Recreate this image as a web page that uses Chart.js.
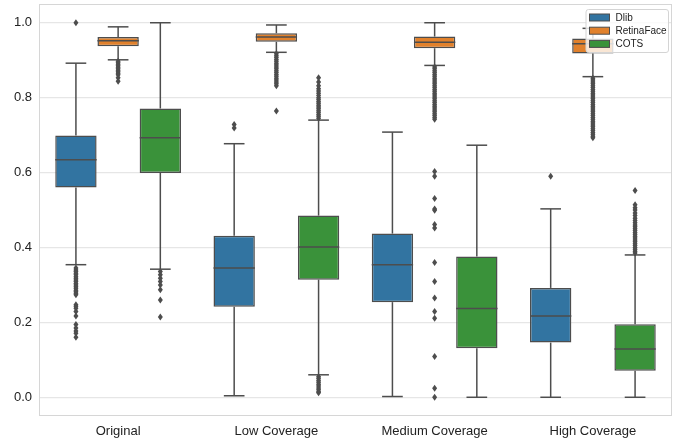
<!DOCTYPE html>
<html>
<head>
<meta charset="utf-8">
<script src="https://cdn.jsdelivr.net/npm/chart.js@4/dist/chart.umd.min.js"></script>
<style>
  html, body { margin: 0; padding: 0; background: #ffffff; }
  #wrap { width: 680px; height: 439px; position: relative; }
</style>
</head>
<body>
<div id="wrap"><canvas id="c"></canvas></div>
<script>
// Detection confidence by face-coverage condition, one box per detector.
const categories = ['Original', 'Low Coverage', 'Medium Coverage', 'High Coverage'];
const seriesNames = ['Dlib', 'RetinaFace', 'COTS'];
const yTicks = [0.0, 0.2, 0.4, 0.6, 0.8, 1.0];

// Dlib
const dlibQ1 = [0.560, 0.242, 0.254, 0.146];
const dlibMedian = [0.634, 0.345, 0.354, 0.217];
const dlibQ3 = [0.699, 0.431, 0.437, 0.292];
const dlibLow = [0.354, 0.004, 0.002, 0.000];
const dlibHigh = [0.892, 0.677, 0.708, 0.503];
const dlibOutliers = [
  [1.000, 0.345, 0.340, 0.336, 0.331, 0.327, 0.322, 0.318, 0.313, 0.309, 0.304, 0.300,
   0.295, 0.291, 0.286, 0.282, 0.278, 0.274, 0.247, 0.243, 0.238, 0.229, 0.217,
   0.194, 0.185, 0.177, 0.171, 0.160],
  [0.728, 0.719],
  [],
  [0.590]
];

// RetinaFace
const retinaQ1 = [0.937, 0.949, 0.932, 0.918];
const retinaMedian = [0.952, 0.962, 0.948, 0.944];
const retinaQ3 = [0.962, 0.972, 0.963, 0.958];
const retinaLow = [0.901, 0.921, 0.886, 0.856];
const retinaHigh = [0.989, 0.994, 1.000, 0.985];
const retinaOutliers = [
  [0.897, 0.893, 0.889, 0.885, 0.881, 0.877, 0.873, 0.869, 0.865, 0.861, 0.853, 0.844],
  [0.917, 0.912, 0.907, 0.902, 0.897, 0.892, 0.887, 0.882, 0.877, 0.872, 0.867, 0.862,
   0.857, 0.852, 0.847, 0.842, 0.837, 0.832, 0.764],
  [0.882, 0.877, 0.872, 0.867, 0.862, 0.857, 0.852, 0.847, 0.842, 0.837, 0.832, 0.827,
   0.822, 0.817, 0.812, 0.807, 0.802, 0.797, 0.792, 0.787, 0.782, 0.777, 0.772, 0.767,
   0.762, 0.757, 0.752, 0.747, 0.742, 0.603, 0.590, 0.531, 0.503, 0.499, 0.461, 0.452,
   0.360, 0.309, 0.265, 0.229, 0.211, 0.109, 0.024, 0.000],
  [0.852, 0.847, 0.842, 0.837, 0.832, 0.827, 0.822, 0.817, 0.812, 0.807, 0.802, 0.797,
   0.792, 0.787, 0.782, 0.777, 0.772, 0.767, 0.762, 0.757, 0.752, 0.747, 0.742, 0.737,
   0.732, 0.727, 0.722, 0.717, 0.712, 0.707, 0.702, 0.697, 0.693]
];

// COTS
const cotsQ1 = [0.599, 0.314, 0.131, 0.071];
const cotsMedian = [0.693, 0.401, 0.237, 0.129];
const cotsQ3 = [0.771, 0.485, 0.376, 0.195];
const cotsLow = [0.342, 0.060, 0.000, 0.000];
const cotsHigh = [1.000, 0.740, 0.673, 0.380];
const cotsOutliers = [
  [0.336, 0.327, 0.318, 0.309, 0.300, 0.287, 0.260, 0.214],
  [0.745, 0.750, 0.755, 0.760, 0.765, 0.770, 0.775, 0.780, 0.785, 0.790, 0.795, 0.800,
   0.806, 0.812, 0.818, 0.824, 0.832, 0.842, 0.853,
   0.055, 0.050, 0.045, 0.040, 0.035, 0.030, 0.025, 0.020, 0.015, 0.012],
  [],
  [0.385, 0.390, 0.395, 0.400, 0.405, 0.410, 0.415, 0.420, 0.425, 0.430, 0.435, 0.440,
   0.445, 0.450, 0.455, 0.460, 0.466, 0.472, 0.478, 0.485, 0.492, 0.500, 0.506, 0.514, 0.552]
];

const fillColors = ['#3274a1', '#e1812c', '#3a923a'];
const lineColor = '#4d4d4d';
const textColor = '#222222';
const fontFamily = '"Liberation Sans", Arial, Helvetica, sans-serif';

const stats = [
  { q1: dlibQ1, med: dlibMedian, q3: dlibQ3, low: dlibLow, high: dlibHigh, out: dlibOutliers },
  { q1: retinaQ1, med: retinaMedian, q3: retinaQ3, low: retinaLow, high: retinaHigh, out: retinaOutliers },
  { q1: cotsQ1, med: cotsMedian, q3: cotsQ3, low: cotsLow, high: cotsHigh, out: cotsOutliers }
];

// Whiskers, caps, medians, outlier diamonds, plot frame and the inset legend.
const boxExtras = {
  id: 'boxExtras',
  beforeDatasetsDraw(chart) {
    const { ctx, chartArea: a } = chart;
    ctx.save();
    ctx.strokeStyle = '#d6d6d6';
    ctx.lineWidth = 1;
    ctx.strokeRect(a.left + 0.5, a.top + 0.5, a.width - 1, a.height - 1);
    ctx.restore();
  },
  afterDatasetsDraw(chart) {
    const { ctx } = chart;
    const y = chart.scales.y;
    const seg = (x1, y1, x2, y2) => {
      ctx.beginPath(); ctx.moveTo(x1, y1); ctx.lineTo(x2, y2); ctx.stroke();
    };
    ctx.save();
    ctx.strokeStyle = lineColor;
    ctx.fillStyle = lineColor;
    ctx.lineWidth = 1.5;
    stats.forEach((s, i) => {
      const meta = chart.getDatasetMeta(i);
      meta.data.forEach((bar, j) => {
        const { x, width } = bar.getProps(['x', 'width'], true);
        const half = width / 2;
        const yq1 = y.getPixelForValue(s.q1[j]);
        const yq3 = y.getPixelForValue(s.q3[j]);
        const ylo = y.getPixelForValue(s.low[j]);
        const yhi = y.getPixelForValue(s.high[j]);
        const ymed = y.getPixelForValue(s.med[j]);
        seg(x, yq3, x, yhi);
        seg(x, yq1, x, ylo);
        seg(x - half / 2, yhi, x + half / 2, yhi);
        seg(x - half / 2, ylo, x + half / 2, ylo);
        seg(x - half, ymed, x + half, ymed);
        s.out[j].forEach(v => {
          const py = y.getPixelForValue(v);
          ctx.beginPath();
          ctx.moveTo(x, py - 3.5);
          ctx.lineTo(x + 2.5, py);
          ctx.lineTo(x, py + 3.5);
          ctx.lineTo(x - 2.5, py);
          ctx.closePath();
          ctx.fill();
        });
      });
    });
    ctx.restore();

    // Legend box in the upper right of the plot
    const a = chart.chartArea;
    const bx = a.right - 86.5, by = a.top + 5, bw = 82.5, bh = 43;
    ctx.save();
    ctx.fillStyle = 'rgba(255,255,255,0.8)';
    ctx.strokeStyle = '#d4d4d4';
    ctx.lineWidth = 1;
    ctx.beginPath();
    ctx.roundRect(bx + 0.5, by + 0.5, bw, bh, 2.5);
    ctx.fill();
    ctx.stroke();
    ctx.font = '10px ' + fontFamily;
    ctx.textBaseline = 'middle';
    ctx.textAlign = 'left';
    seriesNames.forEach((name, i) => {
      const cy = by + 8.5 + i * 13.2;
      ctx.fillStyle = fillColors[i];
      ctx.fillRect(bx + 4, cy - 3.5, 20, 7);
      ctx.strokeStyle = lineColor;
      ctx.lineWidth = 1;
      ctx.strokeRect(bx + 4, cy - 3.5, 20, 7);
      ctx.fillStyle = textColor;
      ctx.fillText(name, bx + 30, cy + 0.5);
    });
    ctx.restore();
  }
};

const datasets = seriesNames.map((name, i) => ({
  label: name,
  data: stats[i].q1.map((v, j) => [v, stats[i].q3[j]]),
  backgroundColor: fillColors[i],
  borderColor: lineColor,
  borderWidth: 1.5,
  borderSkipped: false,
  barPercentage: 0.98,
  categoryPercentage: 0.8
}));

new Chart(document.getElementById('c'), {
  type: 'bar',
  data: { labels: categories, datasets },
  options: {
    responsive: true,
    maintainAspectRatio: false,
    animation: false,
    devicePixelRatio: 1,
    layout: { padding: { top: 4, right: 8, bottom: 0, left: 0 } },
    plugins: { legend: { display: false }, tooltip: { enabled: false } },
    scales: {
      x: {
        grid: { display: false },
        border: { display: false },
        ticks: { color: textColor, font: { family: fontFamily, size: 13 }, padding: 0 },
        afterFit(axis) {
          axis.height = 23;
          axis.paddingLeft = 0; axis.paddingRight = 0;
        }
      },
      y: {
        min: -0.05,
        max: 1.05,
        grid: { color: '#e6e6e6', lineWidth: 1.2, drawTicks: false },
        border: { display: false },
        ticks: {
          color: textColor,
          font: { family: fontFamily, size: 13 },
          padding: 7,
          callback: v => v.toFixed(1)
        },
        afterBuildTicks(axis) { axis.ticks = yTicks.map(v => ({ value: v })); },
        afterFit(axis) {
          axis.width = 39;
          axis.paddingTop = 0; axis.paddingBottom = 0;
        }
      }
    }
  },
  plugins: [boxExtras]
});
</script>
</body>
</html>
